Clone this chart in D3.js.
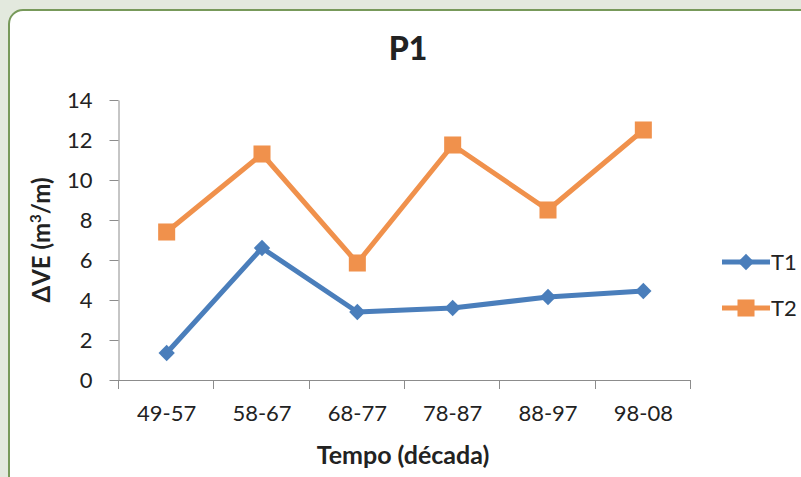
<!DOCTYPE html>
<html>
<head>
<meta charset="utf-8">
<script src="https://cdn.jsdelivr.net/npm/d3@7"></script>
<style>
  body { margin: 0; background: #e3e9de; }
  svg { display: block; }
  text { font-family: Lato, "Open Sans", sans-serif; fill: #222; }
</style>
</head>
<body>
<svg width="801" height="477"></svg>
<script>
var width = 801,
    height = 477;

// values
const categories = ["49-57", "58-67", "68-77", "78-87", "88-97", "98-08"];
const t1_values = [1.35, 6.6, 3.4, 3.6, 4.15, 4.45];
const t2_values = [7.4, 11.3, 5.85, 11.75, 8.5, 12.5];
const y_ticks = [0, 2, 4, 6, 8, 10, 12, 14];
const series_names = ["T1", "T2"];

const blue = "#4a7ebb";
const orange = "#f0914c";
const axis_color = "#8c8c8c";

var svg = d3.select("svg");

// panel with green rounded border
svg.append("rect")
    .attr("x", 9)
    .attr("y", 10)
    .attr("width", 830)
    .attr("height", 520)
    .attr("rx", 14)
    .attr("fill", "#ffffff")
    .attr("stroke", "#77995a")
    .attr("stroke-width", 2);

const plot = { left: 119, right: 691, top: 100, bottom: 380 };

var x = d3.scaleBand()
    .domain(categories)
    .range([plot.left, plot.right]);

var y = d3.scaleLinear()
    .domain([0, 14])
    .range([plot.bottom, plot.top]);

// y axis
var yAxis = svg.append("g")
    .attr("transform", "translate(" + (plot.left - 0.5) + ",0)")
    .call(d3.axisLeft(y).tickValues(y_ticks).tickSize(9).tickPadding(17).tickSizeOuter(0));
yAxis.select(".domain").attr("stroke", axis_color);
yAxis.selectAll(".tick line").attr("stroke", axis_color);
yAxis.selectAll(".tick text")
    .style("font-size", "22px")
    .attr("fill", "#222");

// x axis
var xAxis = svg.append("g")
    .attr("transform", "translate(0," + (plot.bottom + 0.5) + ")")
    .call(d3.axisBottom(x).tickSize(0).tickPadding(25));
xAxis.select(".domain").attr("stroke", axis_color).attr("d", "M" + (plot.left - 9) + ",0H" + plot.right);
xAxis.selectAll(".tick text")
    .style("font-size", "22px")
    .attr("fill", "#222");

// x ticks at band boundaries
var boundaries = categories.map(function (c) { return x(c); });
boundaries.push(x(categories[categories.length - 1]) + x.bandwidth());
svg.append("g")
    .selectAll("line")
    .data(boundaries)
    .join("line")
    .attr("x1", function (d) { return Math.round(d) - 0.5; })
    .attr("x2", function (d) { return Math.round(d) - 0.5; })
    .attr("y1", plot.bottom)
    .attr("y2", plot.bottom + 9)
    .attr("stroke", axis_color);

// title
svg.append("text")
    .attr("x", 408)
    .attr("y", 60)
    .attr("text-anchor", "middle")
    .style("font-size", "32px")
    .style("font-weight", "900")
    .text("P1");

// axis titles
svg.append("text")
    .attr("x", 403)
    .attr("y", 464)
    .attr("text-anchor", "middle")
    .style("font-size", "25px")
    .style("font-weight", "bold")
    .text("Tempo (década)");

var ytitle = svg.append("text")
    .attr("transform", "translate(50,240) rotate(-90)")
    .attr("text-anchor", "middle")
    .style("font-size", "24px")
    .style("font-weight", "bold");
ytitle.append("tspan").text("ΔVE (m");
ytitle.append("tspan").attr("dy", -9).style("font-size", "15px").text("3");
ytitle.append("tspan").attr("dy", 9).text("/m)");

var line = d3.line()
    .x(function (d, i) { return x(categories[i]) + x.bandwidth() / 2; })
    .y(function (d) { return y(d); });

var series = [
    { name: series_names[0], values: t1_values, color: blue, symbol: d3.symbolDiamond2, size: 170 },
    { name: series_names[1], values: t2_values, color: orange, symbol: d3.symbolSquare, size: 290 }
];

series.forEach(function (s) {
    svg.append("path")
        .datum(s.values)
        .attr("d", line)
        .attr("fill", "none")
        .attr("stroke", s.color)
        .attr("stroke-width", 5)
        .attr("stroke-linejoin", "round");

    svg.append("g")
        .selectAll("path")
        .data(s.values)
        .join("path")
        .attr("transform", function (d, i) {
            return "translate(" + (x(categories[i]) + x.bandwidth() / 2) + "," + y(d) + ")";
        })
        .attr("d", d3.symbol().type(s.symbol).size(s.size))
        .attr("fill", s.color);
});

// legend
var legend = svg.append("g")
    .selectAll("g")
    .data(series)
    .join("g")
    .attr("transform", function (d, i) { return "translate(722," + (262 + i * 46) + ")"; });
legend.append("line")
    .attr("x1", 0)
    .attr("x2", 48)
    .attr("stroke", function (d) { return d.color; })
    .attr("stroke-width", 5);
legend.append("path")
    .attr("transform", "translate(24,0)")
    .attr("d", function (d) { return d3.symbol().type(d.symbol).size(d.size)(); })
    .attr("fill", function (d) { return d.color; });
legend.append("text")
    .attr("x", 49)
    .attr("y", 8)
    .style("font-size", "22px")
    .text(function (d) { return d.name; });
</script>
</body>
</html>
